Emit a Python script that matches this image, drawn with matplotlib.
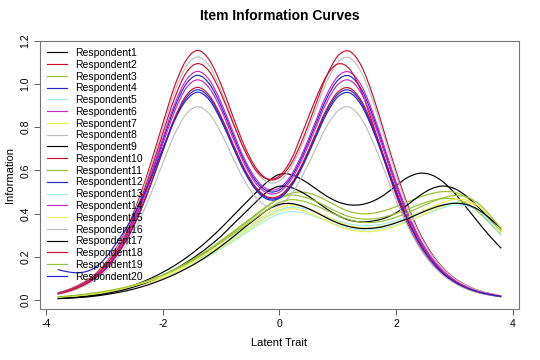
import matplotlib
matplotlib.use("Agg")
import matplotlib.pyplot as plt
from matplotlib.path import Path
from matplotlib.patches import PathPatch
from matplotlib.lines import Line2D

plt.rcParams['font.family'] = ['Liberation Sans', 'DejaVu Sans']

# latent trait grid (theta)
theta = [-3.8, -3.6, -3.4, -3.2, -3.0, -2.8, -2.6, -2.4, -2.2, -2.0,
         -1.8, -1.6, -1.4, -1.2, -1.0, -0.8, -0.6, -0.4, -0.2, 0.0,
         0.2, 0.4, 0.6, 0.8, 1.0, 1.2, 1.4, 1.6, 1.8, 2.0,
         2.2, 2.4, 2.6, 2.8, 3.0, 3.2, 3.4, 3.6, 3.8]

# information values, one list per respondent
r1 = [0.009, 0.012, 0.017, 0.024, 0.033, 0.045, 0.060, 0.079, 0.102, 0.129,
      0.160, 0.196, 0.237, 0.283, 0.334, 0.389, 0.444, 0.498, 0.549, 0.582,
      0.581, 0.556, 0.520, 0.483, 0.455, 0.441, 0.442, 0.458, 0.488, 0.530,
      0.568, 0.587, 0.580, 0.548, 0.496, 0.430, 0.363, 0.298, 0.240]
r2 = [0.034, 0.051, 0.076, 0.112, 0.165, 0.240, 0.341, 0.475, 0.638, 0.816,
      0.987, 1.109, 1.155, 1.110, 0.997, 0.852, 0.713, 0.611, 0.560, 0.567,
      0.631, 0.745, 0.889, 1.031, 1.129, 1.151, 1.085, 0.947, 0.772, 0.595,
      0.439, 0.313, 0.219, 0.150, 0.102, 0.069, 0.046, 0.031, 0.020]
r3 = [0.012, 0.016, 0.021, 0.027, 0.035, 0.045, 0.057, 0.072, 0.090, 0.112,
      0.137, 0.166, 0.198, 0.233, 0.271, 0.311, 0.352, 0.394, 0.435, 0.472,
      0.495, 0.500, 0.487, 0.462, 0.433, 0.410, 0.400, 0.402, 0.414, 0.433,
      0.455, 0.476, 0.493, 0.502, 0.499, 0.476, 0.433, 0.378, 0.317]
r4 = [0.031, 0.046, 0.069, 0.101, 0.148, 0.216, 0.307, 0.428, 0.574, 0.735,
      0.889, 0.999, 1.040, 1.000, 0.898, 0.767, 0.642, 0.550, 0.504, 0.510,
      0.568, 0.671, 0.800, 0.928, 1.017, 1.037, 0.977, 0.853, 0.695, 0.535,
      0.396, 0.282, 0.197, 0.135, 0.092, 0.062, 0.042, 0.028, 0.018]
r5 = [0.014, 0.018, 0.023, 0.029, 0.037, 0.046, 0.057, 0.070, 0.086, 0.104,
      0.125, 0.149, 0.176, 0.205, 0.237, 0.270, 0.305, 0.340, 0.374, 0.400,
      0.410, 0.404, 0.388, 0.366, 0.346, 0.332, 0.325, 0.326, 0.334, 0.348,
      0.366, 0.386, 0.407, 0.427, 0.439, 0.437, 0.415, 0.368, 0.308]
r6 = [0.032, 0.046, 0.070, 0.103, 0.151, 0.220, 0.313, 0.435, 0.584, 0.748,
      0.904, 1.017, 1.058, 1.018, 0.914, 0.781, 0.653, 0.560, 0.513, 0.519,
      0.578, 0.683, 0.814, 0.945, 1.034, 1.055, 0.994, 0.868, 0.708, 0.545,
      0.403, 0.287, 0.200, 0.137, 0.094, 0.063, 0.042, 0.029, 0.019]
r7 = [0.013, 0.017, 0.022, 0.028, 0.035, 0.044, 0.055, 0.068, 0.084, 0.103,
      0.125, 0.150, 0.178, 0.209, 0.242, 0.277, 0.313, 0.349, 0.385, 0.413,
      0.423, 0.414, 0.393, 0.368, 0.344, 0.326, 0.318, 0.318, 0.327, 0.343,
      0.364, 0.388, 0.413, 0.435, 0.451, 0.454, 0.432, 0.379, 0.310]
r8 = [0.034, 0.049, 0.074, 0.109, 0.160, 0.234, 0.333, 0.463, 0.621, 0.795,
      0.961, 1.080, 1.125, 1.082, 0.971, 0.830, 0.694, 0.595, 0.545, 0.552,
      0.615, 0.726, 0.865, 1.004, 1.099, 1.121, 1.056, 0.922, 0.752, 0.579,
      0.428, 0.305, 0.213, 0.146, 0.100, 0.067, 0.045, 0.030, 0.020]
r9 = [0.008, 0.011, 0.015, 0.021, 0.029, 0.040, 0.053, 0.070, 0.090, 0.114,
      0.142, 0.174, 0.210, 0.251, 0.296, 0.350, 0.402, 0.455, 0.503, 0.527,
      0.521, 0.497, 0.462, 0.424, 0.392, 0.370, 0.362, 0.366, 0.379, 0.404,
      0.442, 0.483, 0.515, 0.528, 0.516, 0.482, 0.433, 0.378, 0.324]
r10 = [0.032, 0.048, 0.072, 0.106, 0.156, 0.226, 0.323, 0.449, 0.602, 0.771,
       0.932, 1.051, 1.094, 1.057, 0.954, 0.822, 0.695, 0.600, 0.560, 0.575,
       0.650, 0.780, 0.916, 1.034, 1.092, 1.069, 0.968, 0.815, 0.644, 0.485,
       0.351, 0.248, 0.172, 0.121, 0.081, 0.054, 0.036, 0.024, 0.016]
r11 = [0.014, 0.018, 0.023, 0.030, 0.038, 0.048, 0.061, 0.076, 0.095, 0.117,
       0.142, 0.171, 0.203, 0.238, 0.276, 0.316, 0.357, 0.398, 0.438, 0.472,
       0.486, 0.479, 0.460, 0.434, 0.407, 0.386, 0.376, 0.376, 0.385, 0.401,
       0.421, 0.442, 0.460, 0.470, 0.468, 0.449, 0.410, 0.358, 0.300]
r12 = [0.029, 0.043, 0.064, 0.094, 0.139, 0.202, 0.288, 0.400, 0.538, 0.688,
       0.832, 0.935, 0.973, 0.936, 0.841, 0.718, 0.601, 0.515, 0.472, 0.478,
       0.532, 0.628, 0.749, 0.869, 0.952, 0.971, 0.914, 0.798, 0.651, 0.501,
       0.370, 0.264, 0.184, 0.126, 0.086, 0.058, 0.039, 0.026, 0.017]
r13 = [0.015, 0.019, 0.025, 0.032, 0.040, 0.050, 0.062, 0.076, 0.093, 0.112,
       0.134, 0.159, 0.187, 0.217, 0.250, 0.285, 0.321, 0.357, 0.392, 0.419,
       0.430, 0.425, 0.409, 0.388, 0.367, 0.352, 0.345, 0.346, 0.354, 0.368,
       0.386, 0.406, 0.425, 0.441, 0.450, 0.444, 0.416, 0.364, 0.300]
r14 = [0.030, 0.045, 0.068, 0.099, 0.146, 0.212, 0.301, 0.419, 0.563, 0.721,
       0.871, 0.980, 1.019, 0.980, 0.881, 0.752, 0.630, 0.539, 0.495, 0.500,
       0.557, 0.658, 0.785, 0.910, 0.997, 1.017, 0.958, 0.836, 0.682, 0.525,
       0.388, 0.277, 0.193, 0.132, 0.090, 0.061, 0.041, 0.028, 0.018]
r15 = [0.015, 0.019, 0.024, 0.031, 0.039, 0.048, 0.060, 0.074, 0.091, 0.111,
       0.134, 0.160, 0.189, 0.221, 0.255, 0.291, 0.328, 0.365, 0.401, 0.429,
       0.440, 0.432, 0.412, 0.387, 0.362, 0.344, 0.335, 0.335, 0.344, 0.360,
       0.381, 0.405, 0.430, 0.452, 0.466, 0.463, 0.437, 0.385, 0.320]
r16 = [0.027, 0.039, 0.059, 0.087, 0.128, 0.186, 0.265, 0.368, 0.494, 0.633,
       0.765, 0.860, 0.895, 0.861, 0.773, 0.660, 0.553, 0.473, 0.434, 0.439,
       0.489, 0.578, 0.689, 0.799, 0.875, 0.893, 0.841, 0.734, 0.599, 0.461,
       0.341, 0.243, 0.170, 0.116, 0.079, 0.053, 0.036, 0.024, 0.016]
r17 = [0.007, 0.010, 0.013, 0.018, 0.025, 0.034, 0.045, 0.059, 0.076, 0.096,
       0.119, 0.146, 0.176, 0.211, 0.250, 0.292, 0.336, 0.378, 0.419, 0.443,
       0.447, 0.434, 0.410, 0.382, 0.357, 0.340, 0.332, 0.333, 0.342, 0.358,
       0.378, 0.401, 0.423, 0.440, 0.448, 0.443, 0.420, 0.380, 0.332]
r18 = [0.029, 0.043, 0.065, 0.095, 0.140, 0.205, 0.291, 0.405, 0.543, 0.696,
       0.841, 0.946, 0.984, 0.946, 0.850, 0.726, 0.608, 0.521, 0.477, 0.483,
       0.538, 0.635, 0.757, 0.879, 0.962, 0.981, 0.924, 0.807, 0.658, 0.507,
       0.375, 0.267, 0.186, 0.128, 0.087, 0.059, 0.039, 0.027, 0.017]
r19 = [0.016, 0.020, 0.026, 0.033, 0.041, 0.051, 0.063, 0.078, 0.096, 0.117,
       0.141, 0.168, 0.198, 0.231, 0.267, 0.304, 0.343, 0.382, 0.420, 0.452,
       0.465, 0.458, 0.440, 0.416, 0.392, 0.372, 0.361, 0.360, 0.368, 0.384,
       0.405, 0.429, 0.453, 0.473, 0.484, 0.478, 0.449, 0.396, 0.330]
r20 = [0.142, 0.130, 0.128, 0.145, 0.190, 0.262, 0.345, 0.445, 0.565, 0.700,
       0.830, 0.924, 0.962, 0.925, 0.831, 0.710, 0.594, 0.509, 0.466, 0.472,
       0.526, 0.621, 0.740, 0.858, 0.940, 0.959, 0.903, 0.788, 0.643, 0.495,
       0.366, 0.261, 0.182, 0.125, 0.085, 0.057, 0.039, 0.026, 0.017]

curves = [r1, r2, r3, r4, r5, r6, r7, r8, r9, r10,
          r11, r12, r13, r14, r15, r16, r17, r18, r19, r20]
labels = ["Respondent%d" % (i + 1) for i in range(len(curves))]

# R-style palette that repeats every 8 lines
palette = ["black", "#C81030", "#99C032", "#2424D0",
           "#A8ECEC", "#C828C8", "#EEEE55", "#BEBEBE"]


def smooth_path(xs, ys):
    # draw through the read points with cubic segments (Catmull-Rom style)
    pts = list(zip(xs, ys))
    n = len(pts)
    verts = [pts[0]]
    codes = [Path.MOVETO]
    for i in range(n - 1):
        p0 = pts[i - 1] if i > 0 else pts[i]
        p1 = pts[i]
        p2 = pts[i + 1]
        p3 = pts[i + 2] if i + 2 < n else pts[i + 1]
        c1 = (p1[0] + (p2[0] - p0[0]) / 6, p1[1] + (p2[1] - p0[1]) / 6)
        c2 = (p2[0] - (p3[0] - p1[0]) / 6, p2[1] - (p3[1] - p1[1]) / 6)
        verts += [c1, c2, p2]
        codes += [Path.CURVE4] * 3
    return Path(verts, codes)


fig = plt.figure(figsize=(5.4, 3.6), dpi=100)
ax = fig.add_axes([0.074, 0.142, 0.887, 0.745])

handles = []
for i, y in enumerate(curves):
    col = palette[i % 8]
    ax.add_patch(PathPatch(smooth_path(theta, y), fill=False,
                           edgecolor=col, lw=0.85))
    handles.append(Line2D([], [], color=col, lw=0.85, label=labels[i]))

ax.set_xlim(-4.104, 4.104)
ax.set_ylim(-0.04, 1.2)
ax.set_xticks([-4, -2, 0, 2, 4])
ax.set_xticklabels(["-4", "-2", "0", "2", "4"])
ax.set_yticks([0.0, 0.2, 0.4, 0.6, 0.8, 1.0, 1.2])
ax.set_yticklabels(["0.0", "0.2", "0.4", "0.6", "0.8", "1.0", "1.2"],
                   rotation=90, va="center")
ax.tick_params(labelsize=7.5, length=4, width=0.6, color="#444444", pad=3)
for s in ax.spines.values():
    s.set_color("#777777")
    s.set_linewidth(0.8)

ax.set_title("Item Information Curves", fontsize=10, fontweight="bold", pad=15)
ax.set_xlabel("Latent Trait", fontsize=8, labelpad=7)
ax.set_ylabel("Information", fontsize=8, labelpad=4)

ax.legend(handles=handles, loc="upper left", bbox_to_anchor=(0, 1),
          frameon=False, fontsize=7.5, handlelength=1.9, handletextpad=0.8,
          labelspacing=0.17, borderaxespad=0.3, borderpad=0.4)

fig.savefig("out.png", dpi=100)
